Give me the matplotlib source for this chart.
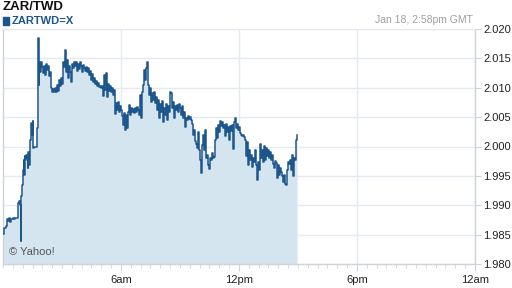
import matplotlib
matplotlib.use("Agg")
import matplotlib.pyplot as plt
import numpy as np

plt.rcParams['font.family'] = ['Liberation Sans', 'DejaVu Sans']

# minutes after midnight GMT, Jan 18
minutes = [0, 3, 6, 9, 12, 15, 18, 21, 24, 27, 31, 34, 37, 43, 46, 49, 52, 55, 56, 58,
           60, 61, 63, 64, 66, 67, 70, 73, 75, 76, 79, 81, 82, 85, 88, 90, 92, 95, 101, 104,
           107, 108, 110, 111, 113, 116, 119, 122, 125, 128, 131, 134, 137, 140, 143, 146, 150, 153, 156, 159,
           162, 165, 168, 171, 174, 177, 180, 183, 186, 189, 192, 195, 198, 201, 204, 208, 211, 214, 217, 220,
           223, 226, 229, 232, 235, 238, 241, 244, 247, 250, 253, 256, 259, 262, 265, 268, 272, 275, 278, 281,
           284, 287, 290, 293, 296, 299, 302, 305, 308, 311, 314, 317, 320, 323, 326, 330, 333, 336, 339, 342,
           345, 348, 351, 354, 357, 360, 363, 366, 369, 372, 375, 378, 381, 384, 387, 391, 394, 397, 400, 403,
           406, 409, 412, 415, 418, 421, 424, 427, 430, 433, 436, 439, 442, 445, 448, 452, 455, 458, 461, 464,
           467, 470, 473, 476, 479, 482, 485, 488, 491, 494, 497, 500, 503, 507, 510, 513, 516, 519, 522, 525,
           528, 531, 534, 537, 540, 543, 546, 549, 552, 555, 558, 561, 564, 568, 571, 574, 577, 580, 583, 586,
           589, 592, 595, 598, 601, 604, 607, 610, 613, 616, 619, 622, 626, 629, 632, 635, 638, 641, 644, 647,
           650, 653, 656, 659, 662, 665, 668, 671, 674, 677, 680, 683, 687, 690, 693, 696, 699, 702, 705, 708,
           711, 714, 717, 720, 723, 726, 729, 732, 735, 738, 741, 745, 748, 751, 754, 757, 760, 763, 766, 769,
           772, 775, 778, 781, 784, 787, 790, 793, 796, 799, 803, 806, 809, 812, 815, 818, 821, 824, 827, 830,
           833, 836, 839, 842, 845, 848, 851, 854, 857, 861, 864, 867, 870, 873, 876, 879, 882, 885, 888, 891,
           894, 897]

rates = [1.9851, 1.9861, 1.9861, 1.9865, 1.9877, 1.9873, 1.9878, 1.9871, 1.9877, 1.9877, 1.9878, 1.9877, 1.9878, 1.9878, 1.9904, 1.9907, 1.9900, 1.9839, 1.9916, 1.9934,
         1.9948, 1.9960, 1.9977, 1.9952, 1.9984, 1.9977, 1.9986, 1.9980, 1.9963, 1.9991, 1.9969, 1.9997, 2.0011, 2.0040, 2.0020, 2.0043, 1.9997, 1.9999, 1.9999, 2.0031,
         2.0031, 2.0185, 2.0105, 2.0144, 2.0127, 2.0144, 2.0135, 2.0125, 2.0137, 2.0122, 2.0140, 2.0130, 2.0137, 2.0120, 2.0127, 2.0100, 2.0093, 2.0098, 2.0093, 2.0100,
         2.0093, 2.0105, 2.0094, 2.0113, 2.0103, 2.0117, 2.0106, 2.0144, 2.0135, 2.0164, 2.0127, 2.0147, 2.0117, 2.0137, 2.0127, 2.0110, 2.0140, 2.0134, 2.0144, 2.0137,
         2.0144, 2.0129, 2.0140, 2.0132, 2.0144, 2.0137, 2.0127, 2.0139, 2.0134, 2.0129, 2.0135, 2.0127, 2.0134, 2.0122, 2.0129, 2.0113, 2.0123, 2.0110, 2.0117, 2.0106,
         2.0111, 2.0103, 2.0108, 2.0101, 2.0103, 2.0100, 2.0103, 2.0086, 2.0122, 2.0096, 2.0125, 2.0084, 2.0106, 2.0094, 2.0103, 2.0093, 2.0100, 2.0088, 2.0096, 2.0055,
         2.0074, 2.0062, 2.0076, 2.0059, 2.0069, 2.0062, 2.0052, 2.0037, 2.0057, 2.0028, 2.0054, 2.0031, 2.0059, 2.0071, 2.0054, 2.0066, 2.0059, 2.0064, 2.0057, 2.0066,
         2.0059, 2.0067, 2.0062, 2.0054, 2.0088, 2.0049, 2.0093, 2.0105, 2.0130, 2.0113, 2.0134, 2.0144, 2.0105, 2.0088, 2.0100, 2.0076, 2.0091, 2.0079, 2.0093, 2.0074,
         2.0084, 2.0062, 2.0079, 2.0049, 2.0072, 2.0059, 2.0077, 2.0042, 2.0066, 2.0054, 2.0072, 2.0045, 2.0069, 2.0059, 2.0093, 2.0091, 2.0066, 2.0076, 2.0049, 2.0069,
         2.0062, 2.0071, 2.0059, 2.0072, 2.0066, 2.0054, 2.0069, 2.0049, 2.0059, 2.0033, 2.0049, 2.0045, 2.0052, 2.0047, 2.0050, 2.0045, 2.0038, 2.0020, 2.0028, 2.0009,
         2.0004, 1.9997, 2.0025, 1.9994, 1.9977, 1.9955, 2.0003, 2.0020, 1.9994, 2.0028, 1.9980, 1.9986, 1.9969, 1.9962, 1.9980, 1.9977, 1.9989, 1.9980, 1.9982, 2.0011,
         2.0031, 2.0014, 2.0037, 2.0025, 2.0043, 2.0035, 2.0042, 2.0031, 2.0037, 2.0018, 2.0038, 2.0025, 2.0033, 2.0011, 2.0035, 2.0026, 2.0037, 1.9996, 2.0042, 2.0049,
         2.0031, 2.0038, 2.0028, 2.0033, 2.0023, 2.0020, 2.0018, 2.0020, 2.0016, 2.0011, 1.9984, 2.0008, 1.9969, 1.9994, 1.9977, 1.9986, 1.9965, 1.9980, 1.9974, 1.9994,
         1.9969, 1.9943, 1.9974, 1.9960, 2.0004, 1.9980, 1.9994, 1.9974, 2.0001, 1.9977, 1.9997, 1.9984, 1.9994, 1.9980, 1.9991, 1.9977, 1.9986, 1.9970, 1.9963, 1.9975,
         1.9972, 1.9946, 1.9969, 1.9952, 1.9963, 1.9957, 1.9950, 1.9940, 1.9952, 1.9936, 1.9934, 1.9960, 1.9974, 1.9970, 1.9977, 1.9960, 1.9986, 1.9950, 1.9980, 1.9977,
         2.0011, 2.0020]

y_ticks = [1.980, 1.985, 1.990, 1.995, 2.000, 2.005, 2.010, 2.015, 2.020]
x_ticks = [6, 12, 18, 24]
x_labels = ["6am", "12pm", "6pm", "12am"]

hours = np.array(minutes) / 60.0

line_col = "#1d568c"
fill_col = "#d5e5f0"
grid_col = "#e4eaf1"
axis_col = "#cfd3d8"

fig = plt.figure(figsize=(5.12, 2.88), dpi=100)
ax = fig.add_axes([3 / 512, 24 / 288, 472 / 512, 235 / 288])

ax.fill_between(hours, rates, 1.980, step="post", color=fill_col, linewidth=0, zorder=2)
ax.step(hours, rates, where="post", color=line_col, linewidth=1.1, zorder=3)

ax.set_xlim(0, 24)
ax.set_ylim(1.980, 2.020)

ax.set_yticks(y_ticks)
ax.set_yticklabels([f"{v:.3f}" for v in y_ticks])
ax.yaxis.tick_right()
ax.set_xticks(x_ticks)
ax.set_xticklabels(x_labels)
ax.set_xticks(np.arange(0, 24.01, 0.5), minor=True)

ax.grid(True, which="major", color=grid_col, linewidth=1.0, zorder=1)
ax.tick_params(axis="y", which="major", right=True, length=4, width=0.8, color=axis_col,
               labelsize=8, labelcolor="#222222", pad=2)
ax.tick_params(axis="x", which="major", length=5, width=0.8, color=axis_col,
               labelsize=8, labelcolor="#222222", pad=3)
ax.tick_params(axis="x", which="minor", length=3, width=0.6, color=axis_col)

for side in ["left", "bottom", "right"]:
    ax.spines[side].set_color(axis_col)
    ax.spines[side].set_linewidth(1.0)
ax.spines["top"].set_color(grid_col)

ax.text(0.012, 0.04, "© Yahoo!", transform=ax.transAxes, fontsize=8, color="#555555", zorder=4)

fig.text(3 / 512, 1 - 7 / 288, "ZAR/TWD", fontsize=9.5, fontweight="bold", color="#111111", va="center")
fig.patches.append(plt.Rectangle((3 / 512, 1 - 25 / 288), 6 / 512, 8 / 288, transform=fig.transFigure,
                                 color=line_col, figure=fig))
fig.text(12 / 512, 1 - 20.5 / 288, "ZARTWD=X", fontsize=8, fontweight="bold", color=line_col, va="center")
fig.text(473 / 512, 1 - 20 / 288, "Jan 18, 2:58pm GMT", fontsize=7.5, color="#a0a0a0", ha="right", va="center")

fig.savefig("out.png", dpi=100)
